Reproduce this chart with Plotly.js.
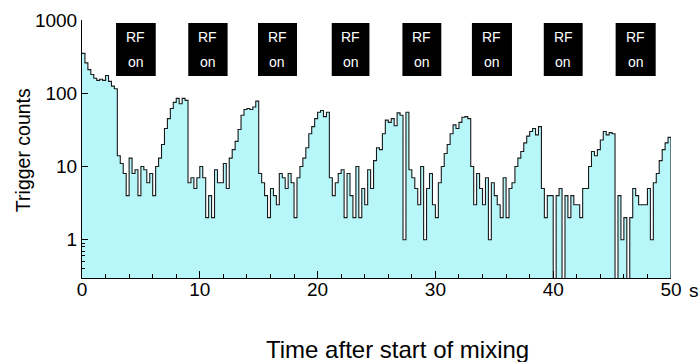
<!DOCTYPE html>
<html>
<head>
<meta charset="utf-8">
<script src="https://cdn.plot.ly/plotly-3.0.1.min.js"></script>
<style>html,body{margin:0;padding:0;background:#fff;}#chart{width:699px;height:362px;}</style>
</head>
<body>
<div id="chart"></div>
<script>
// ---- data (trigger counts per 0.25 s bin) ----
var binWidth = 0.25;           // s
var decay0   = [350, 260, 210, 180, 160, 150, 155, 150, 175, 145, 125, 115];
var low1     = [14, 11, 8, 4, 13, 8, 9, 4, 10, 9, 6, 8, 4, 10];
var rise1    = [13, 20, 33, 45, 62, 75, 85, 72, 85, 80];
var low2     = [6, 7, 5, 7, 10, 7, 2, 4, 2, 9, 6, 6, 11, 5];
var rise2    = [13, 17, 22, 32, 50, 60, 62, 60, 65, 78];
var low3     = [8, 6, 4, 2, 5, 4, 3, 8, 7, 5, 8, 6, 2, 7];
var rise3    = [10, 13, 18, 28, 35, 45, 55, 58, 48, 55];
var low4     = [7, 4, 6, 8, 9, 2, 8, 4, 2, 10, 2, 5, 3, 9, 5];
var rise4    = [12, 18, 17, 28, 43, 40, 45, 36, 54, 50];
var low5     = [1, 55, 9, 7, 5, 3, 10, 1, 5, 8, 3, 2, 6];
var rise5    = [10, 15, 20, 28, 37, 33, 40, 47, 48, 45];
var low6     = [10, 3, 8, 5, 3, 7, 1, 6, 4, 3, 2, 7, 2, 5, 6];
var rise6    = [10, 13, 16, 21, 26, 30, 33, 27, 35];
var low7     = [5, 2, 4, 4, 0, 4, 5, 0, 4, 2, 4, 3, 3, 2, 5, 5];
var rise7    = [10, 16, 14, 17, 23, 30, 27, 29, 28];
var low8     = [0, 4, 1, 2, 0, 2, 5, 4, 3, 3, 3, 5, 1, 6, 8];
var rise8    = [12, 17, 21, 25];

var rfStart  = [2.89, 9.02, 14.94, 21.2, 27.2, 33.1, 39.2, 45.3];
var rfEnd    = [6.26, 12.36, 18.25, 24.4, 30.5, 36.5, 42.5, 48.7];

var xTickVals   = [0, 10, 20, 30, 40, 50];
var xTickText   = ['0', '10', '20', '30', '40', '50'];
var yTickVals   = [1, 10, 100, 1000];
var yTickText   = ['1', '10', '100', '1000'];
var yMinorVals  = [0.4, 0.5, 0.6, 0.7, 0.8, 0.9];

// ---- build step histogram ----
var counts = [].concat(decay0, low1, rise1, low2, rise2, low3, rise3, low4, rise4,
                       low5, rise5, low6, rise6, low7, rise7, low8, rise8);
var floorVal = 0.01; // zero counts drawn to the bottom of the log axis
var xs = [], ys = [];
for (var i = 0; i < counts.length; i++) {
  xs.push(i * binWidth);
  ys.push(counts[i] > 0 ? counts[i] : floorVal);
}
var xEnd = counts.length * binWidth;
xs.push(xEnd); ys.push(ys[ys.length - 1]);
xs.push(xEnd); ys.push(floorVal);

var FONT = 'Liberation Sans, Arial, Helvetica, sans-serif';

var trace = {
  x: xs, y: ys, type: 'scatter', mode: 'lines',
  line: {shape: 'hv', color: '#1a1a1a', width: 1.1},
  fill: 'tozeroy', fillcolor: '#b7f7fa',
  hoverinfo: 'skip'
};

var shapes = [], annotations = [];
for (var k = 0; k < rfStart.length; k++) {
  shapes.push({type: 'rect', xref: 'x', yref: 'paper', x0: rfStart[k], x1: rfEnd[k],
               y0: 0.783, y1: 0.988, fillcolor: '#000', line: {width: 0}, layer: 'above'});
  var xc = (rfStart[k] + rfEnd[k]) / 2;
  annotations.push({xref: 'x', yref: 'paper', x: xc, y: 0.934, text: 'RF', showarrow: false,
                    font: {family: FONT, size: 14, color: '#fff'}, xanchor: 'center', yanchor: 'middle'});
  annotations.push({xref: 'x', yref: 'paper', x: xc, y: 0.837, text: 'on', showarrow: false,
                    font: {family: FONT, size: 14, color: '#fff'}, xanchor: 'center', yanchor: 'middle'});
}
annotations.push({xref: 'paper', yref: 'paper', x: 1.027, y: -0.05, text: 's', showarrow: false,
                  xanchor: 'left', yanchor: 'middle', font: {family: FONT, size: 19, color: '#000'}});
annotations.push({xref: 'paper', yref: 'paper', x: 0.535, y: -0.279, text: 'Time after start of mixing',
                  showarrow: false, xanchor: 'center', yanchor: 'middle',
                  font: {family: FONT, size: 24, color: '#000'}});
annotations.push({xref: 'paper', yref: 'paper', x: -0.1, y: 0.496, text: 'Trigger counts',
                  showarrow: false, textangle: -90, xanchor: 'center', yanchor: 'middle',
                  font: {family: FONT, size: 19.5, color: '#000'}});

var layout = {
  width: 699, height: 362,
  margin: {l: 82, r: 28, t: 20, b: 84},
  paper_bgcolor: '#fff', plot_bgcolor: '#fff',
  showlegend: false,
  font: {family: FONT, size: 19, color: '#000'},
  xaxis: {
    range: [0, 50], showgrid: false, zeroline: false,
    showline: true, linecolor: '#000', linewidth: 1,
    ticks: 'inside', ticklen: 7, tickcolor: '#000', tickwidth: 1,
    tickmode: 'array', tickvals: xTickVals, ticktext: xTickText,
    ticklabelstandoff: -6,
    tickfont: {family: FONT, size: 19, color: '#000'},
    minor: {dtick: 2, tick0: 0, ticks: 'inside', ticklen: 4, tickcolor: '#000', showgrid: false}
  },
  yaxis: {
    type: 'log', range: [Math.log10(0.3), 3], showgrid: false, zeroline: false,
    showline: true, linecolor: '#000', linewidth: 1,
    ticks: 'inside', ticklen: 6, tickcolor: '#000', tickwidth: 1,
    tickmode: 'array', tickvals: yTickVals, ticktext: yTickText,
    tickfont: {family: FONT, size: 19, color: '#000'},
    minor: {tickmode: 'array', tickvals: yMinorVals, ticks: 'inside', ticklen: 3, tickcolor: '#000', showgrid: false}
  },
  shapes: shapes,
  annotations: annotations
};

Plotly.newPlot('chart', [trace], layout, {displayModeBar: false, staticPlot: true});
</script>
</body>
</html>
